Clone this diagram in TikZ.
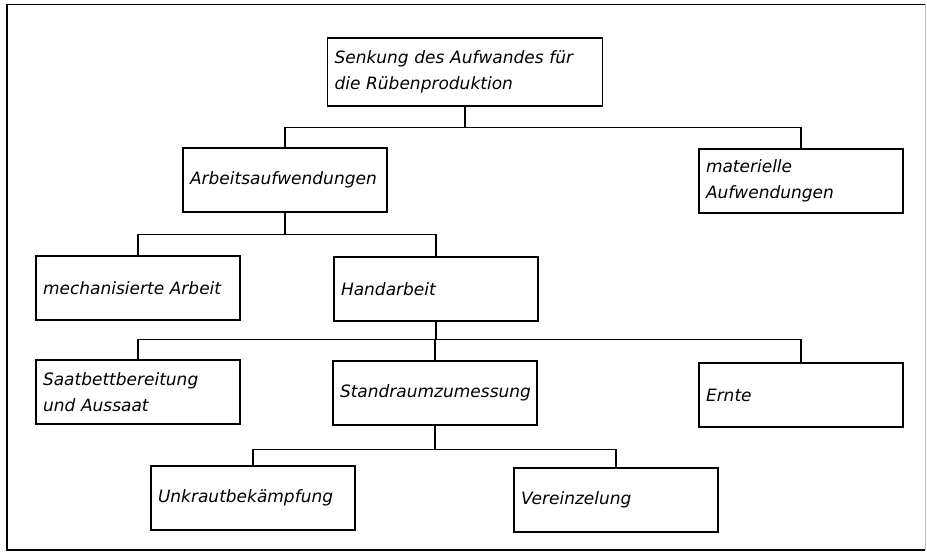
\documentclass[tikz,border=0pt]{standalone}
\usepackage{fontspec}
\setmainfont{DejaVu Sans}
\usetikzlibrary{positioning, calc}

\begin{document}
\begin{tikzpicture}[x=1pt, y=-1pt,
    block/.style={rectangle, draw, line width=1.6pt, fill=white, text width=190pt, align=left, inner xsep=7pt, minimum height=64pt, font=\fontsize{17}{26}\selectfont\itshape},
    wide/.style={block, text width=261pt, minimum height=68pt},
    link/.style={line width=1.1pt}]

    \useasboundingbox (0,0) rectangle (927,553);
    \draw [line width=1.4pt] (925,4.5) -- (7,4.5) -- (7,550) -- (925,550);
    \draw [line width=0.8pt, gray!50] (925,4.5) -- (925,550);

    \node [wide] (goal) at (465,72) {Senkung des Aufwandes für\\die Rübenproduktion};
    \node [block] (arbeit) at (285,180) {Arbeitsaufwendungen};
    \node [block] (material) at (801,181) {materielle\\Aufwendungen};
    \node [block] (mech) at (138,288) {mechanisierte Arbeit};
    \node [block] (hand) at (436,289) {Handarbeit};
    \node [block] (saat) at (138,392) {Saatbettbereitung\\und Aussaat};
    \node [block] (stand) at (435,393) {Standraumzumessung};
    \node [block] (ernte) at (801,395) {Ernte};
    \node [block] (unkraut) at (253,498) {Unkrautbekämpfung};
    \node [block] (verein) at (616,500) {Vereinzelung};

    \draw [link] (goal.south) -- ++(0,21) -| (arbeit.north);
    \draw [link] (goal.south) -- ++(0,21) -| (material.north);
    \draw [link] (arbeit.south) -- ++(0,22) -| (mech.north);
    \draw [link] (arbeit.south) -- ++(0,22) -| (hand.north);
    \draw [link] (hand.south) -- ++(0,18) -| (saat.north);
    \draw [link] (hand.south) -- ++(0,18) -| (stand.north);
    \draw [link] (hand.south) -- ++(0,18) -| (ernte.north);
    \draw [link] (stand.south) -- ++(0,24) -| (unkraut.north);
    \draw [link] (stand.south) -- ++(0,24) -| (verein.north);
\end{tikzpicture}
\end{document}
